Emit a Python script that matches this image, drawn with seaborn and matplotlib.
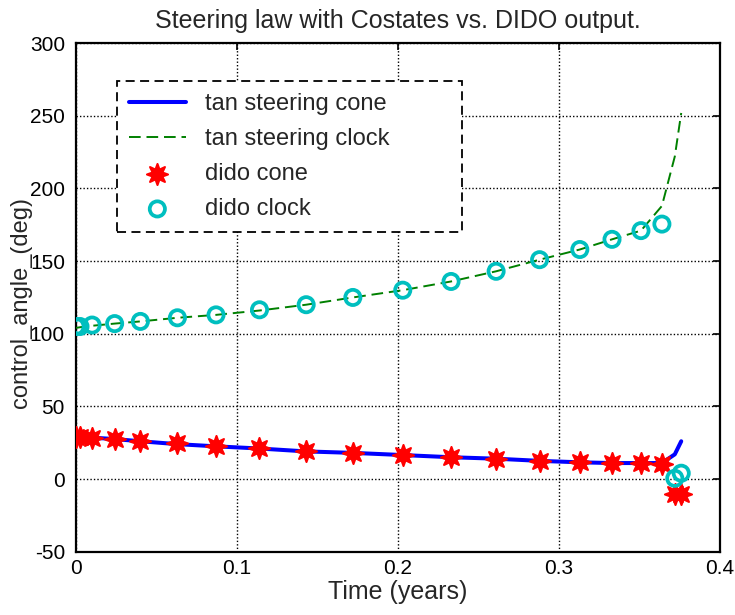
import numpy as np
import pandas as pd
import matplotlib
matplotlib.use("Agg")
import matplotlib.pyplot as plt
import seaborn as sns

# Collocation node times (years)
time_nodes = [0.0, 0.0025, 0.010, 0.024, 0.040, 0.063, 0.087, 0.114, 0.143, 0.172,
              0.203, 0.233, 0.261, 0.288, 0.313, 0.333, 0.351, 0.364, 0.372, 0.376]

# Steering angles from costates (deg)
tan_cone = [29, 29, 28.5, 27.5, 26, 24, 22.5, 21, 19, 18,
            16.5, 15, 14, 12.5, 11.5, 11, 11, 11, 17, 26]
tan_clock = [104, 104.5, 105.5, 107, 108.5, 111, 113, 116, 120, 125,
             130, 136, 143, 151, 158, 165, 171, 188, 222, 252]

# DIDO solver output (deg)
dido_cone = [29, 29, 28.5, 27.5, 26, 25, 23, 21.5, 19, 18,
             16.5, 15, 14, 12.5, 11.5, 11, 11, 10, -10.5, -10]
dido_clock = [105, 105, 106, 107, 108.5, 111, 113, 116.5, 120, 125,
              130, 136, 143, 151, 158, 165, 171, 175.5, 0.5, 4]

x_ticks = [0, 0.1, 0.2, 0.3, 0.4]
x_tick_labels = ["0", "0.1", "0.2", "0.3", "0.4"]
y_ticks = [-50, 0, 50, 100, 150, 200, 250, 300]

df = pd.DataFrame({
    "t": time_nodes,
    "tan_cone": tan_cone,
    "tan_clock": tan_clock,
    "dido_cone": dido_cone,
    "dido_clock": dido_clock,
})

sns.set_theme(style="white")
plt.rcParams["font.family"] = ["Liberation Sans", "DejaVu Sans"]

fig = plt.figure(figsize=(7.35, 6.15), dpi=100)
ax = fig.add_axes([0.1034, 0.103, 0.876, 0.8267])

sns.lineplot(data=df, x="t", y="tan_cone", ax=ax, color="#0000ff", linewidth=2.9,
             sort=False, estimator=None, label="tan steering cone", zorder=3)
sns.lineplot(data=df, x="t", y="tan_clock", ax=ax, color="#008000", linewidth=1.4,
             sort=False, estimator=None, label="tan steering clock", zorder=3)
ax.lines[-1].set_linestyle((0, (6, 3)))

sns.scatterplot(data=df, x="t", y="dido_cone", ax=ax, marker=(8, 1, 0), s=230,
                color="red", edgecolor="red", linewidth=1.5, label="dido cone", zorder=4)
sns.scatterplot(data=df, x="t", y="dido_clock", ax=ax, marker="o", s=120,
                facecolor="none", edgecolor="#00bfbf", linewidth=2.7, label="dido clock", zorder=4)

ax.set_xlim(0, 0.4)
ax.set_ylim(-50, 300)
ax.set_xticks(x_ticks)
ax.set_xticklabels(x_tick_labels)
ax.set_yticks(y_ticks)
ax.set_yticklabels([str(v) for v in y_ticks])

ax.grid(True, color="black", linestyle=(0, (1, 1.5)), linewidth=1.0)
ax.set_axisbelow(True)
for sp in ax.spines.values():
    sp.set_color("black")
    sp.set_linewidth(1.6)
ax.tick_params(direction="in", length=5, width=1.2, top=True, right=True,
               labelsize=15, colors="black")
ax.tick_params(axis="y", pad=8)
ax.tick_params(axis="x", pad=5)

ax.set_xlabel("Time (years)", fontsize=18, labelpad=2)
ax.set_ylabel("control_angle_(deg)", fontsize=17)
ax.yaxis.set_label_coords(-0.068, 0.49)
ax.set_title("Steering law with Costates vs. DIDO output.", fontsize=18, pad=11)

leg = ax.legend(loc="upper left", bbox_to_anchor=(0.064, 0.925, 0.535, 0.0),
                mode="expand", fontsize=17,
                frameon=True, fancybox=False, framealpha=1, edgecolor="black",
                borderpad=0.5, handlelength=2.4, labelspacing=0.55, handletextpad=0.8,
                borderaxespad=0.0)
leg.get_frame().set_linestyle((0, (5, 3)))
leg.get_frame().set_linewidth(1.3)

fig.savefig("out.png", dpi=100)
